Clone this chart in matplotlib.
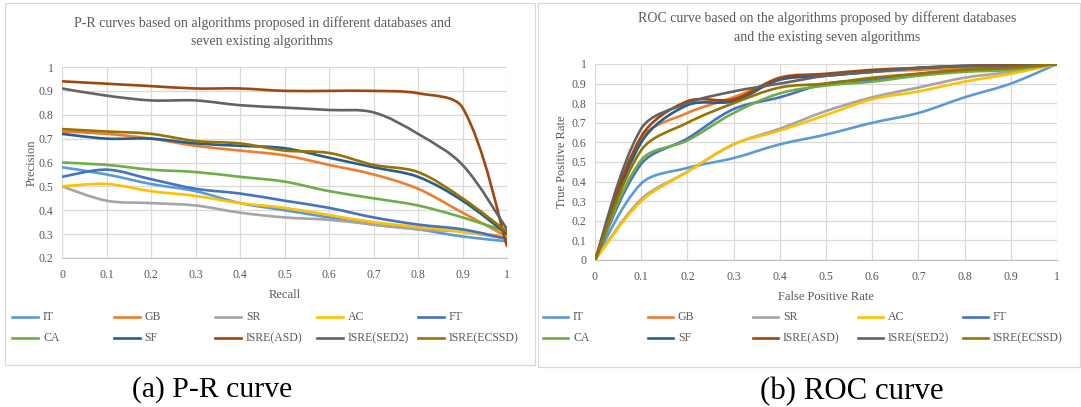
import numpy as np
import matplotlib
matplotlib.use("Agg")
import matplotlib.pyplot as plt
from matplotlib.path import Path
from matplotlib.patches import PathPatch, Rectangle
from matplotlib.lines import Line2D
from matplotlib.ticker import FuncFormatter, MultipleLocator

# ---------------- data ----------------
names = ["IT", "GB", "SR", "AC", "FT", "CA", "SF", "ISRE(ASD)", "ISRE(SED2)", "ISRE(ECSSD)"]
colors = ["#5B9BD5", "#ED7D31", "#A5A5A5", "#FFC000", "#4472C4",
          "#70AD47", "#255E91", "#9E480E", "#636363", "#997300"]

recall = [0.0, 0.1, 0.2, 0.3, 0.4, 0.5, 0.6, 0.7, 0.8, 0.9, 1.0]
pr_IT    = [0.58, 0.55, 0.51, 0.48, 0.43, 0.40, 0.37, 0.34, 0.32, 0.29, 0.27]
pr_GB    = [0.73, 0.72, 0.70, 0.67, 0.65, 0.63, 0.59, 0.55, 0.49, 0.39, 0.29]
pr_SR    = [0.50, 0.44, 0.43, 0.42, 0.39, 0.37, 0.36, 0.34, 0.32, 0.31, 0.28]
pr_AC    = [0.50, 0.51, 0.48, 0.46, 0.43, 0.41, 0.38, 0.35, 0.33, 0.31, 0.29]
pr_FT    = [0.54, 0.57, 0.53, 0.49, 0.47, 0.44, 0.41, 0.37, 0.34, 0.32, 0.28]
pr_CA    = [0.60, 0.59, 0.57, 0.56, 0.54, 0.52, 0.48, 0.45, 0.42, 0.37, 0.31]
pr_SF    = [0.72, 0.70, 0.70, 0.68, 0.67, 0.66, 0.62, 0.58, 0.54, 0.44, 0.30]
pr_ASD   = [0.94, 0.93, 0.92, 0.91, 0.91, 0.90, 0.90, 0.90, 0.89, 0.83, 0.25]
pr_SED2  = [0.91, 0.88, 0.86, 0.86, 0.84, 0.83, 0.82, 0.81, 0.72, 0.59, 0.32]
pr_ECSSD = [0.74, 0.73, 0.72, 0.69, 0.68, 0.65, 0.64, 0.59, 0.56, 0.45, 0.31]

fpr = [0.0, 0.1, 0.2, 0.3, 0.4, 0.5, 0.6, 0.7, 0.8, 0.9, 1.0]
roc_IT    = [0.0, 0.39, 0.47, 0.52, 0.59, 0.64, 0.70, 0.75, 0.83, 0.90, 1.0]
roc_GB    = [0.0, 0.62, 0.75, 0.83, 0.92, 0.94, 0.96, 0.97, 0.98, 0.99, 1.0]
roc_SR    = [0.0, 0.31, 0.45, 0.59, 0.67, 0.76, 0.83, 0.88, 0.93, 0.96, 1.0]
roc_AC    = [0.0, 0.30, 0.45, 0.59, 0.66, 0.74, 0.82, 0.86, 0.91, 0.95, 1.0]
roc_FT    = [0.0, 0.49, 0.62, 0.77, 0.83, 0.90, 0.92, 0.95, 0.97, 0.98, 1.0]
roc_CA    = [0.0, 0.51, 0.61, 0.75, 0.85, 0.89, 0.91, 0.94, 0.96, 0.97, 1.0]
roc_SF    = [0.0, 0.60, 0.79, 0.81, 0.92, 0.94, 0.96, 0.98, 0.99, 0.99, 1.0]
roc_ASD   = [0.0, 0.63, 0.81, 0.82, 0.93, 0.95, 0.97, 0.98, 0.99, 1.0, 1.0]
roc_SED2  = [0.0, 0.67, 0.80, 0.86, 0.90, 0.94, 0.96, 0.98, 0.99, 0.99, 1.0]
roc_ECSSD = [0.0, 0.56, 0.70, 0.80, 0.88, 0.90, 0.93, 0.95, 0.97, 0.98, 1.0]

pr_series = [pr_IT, pr_GB, pr_SR, pr_AC, pr_FT, pr_CA, pr_SF, pr_ASD, pr_SED2, pr_ECSSD]
roc_series = [roc_IT, roc_GB, roc_SR, roc_AC, roc_FT, roc_CA, roc_SF, roc_ASD, roc_SED2, roc_ECSSD]

# ---------------- figure ----------------
W, H = 1081, 407
plt.rcParams['font.family'] = ['Liberation Serif', 'DejaVu Serif']
fig = plt.figure(figsize=(W / 100, H / 100), dpi=100)
TXT = '#595959'
GRID = '#D9D9D9'


def smooth_path(xs, ys, sx, sy):
    """Excel-like smoothed line: cubic Bezier through the data points,
    tangent lengths scaled by neighbouring chord lengths (in screen units)."""
    pts = np.column_stack([xs, ys]).astype(float)
    scr = pts * np.array([sx, sy])
    n = len(pts)

    def d(a, b):
        return float(np.hypot(*(scr[b] - scr[a])))

    verts = [pts[0]]
    codes = [Path.MOVETO]
    for i in range(n - 1):
        i0 = max(i - 1, 0)
        i3 = min(i + 2, n - 1)
        d01, d12, d23 = d(i0, i), d(i, i + 1), d(i + 1, i3)
        f1 = d12 / (d01 + d12) / 3.0 if d01 > 0 else 1 / 6.0
        f2 = d12 / (d12 + d23) / 3.0 if d23 > 0 else 1 / 6.0
        c1 = pts[i] + (pts[i + 1] - pts[i0]) * f1
        c2 = pts[i + 1] - (pts[i3] - pts[i]) * f2
        verts += [c1, c2, pts[i + 1]]
        codes += [Path.CURVE4] * 3
    return Path(verts, codes)


def fmt(v, _):
    return f"{v:g}"


def style_axes(ax, ylo):
    ax.set_xlim(0, 1)
    ax.set_ylim(ylo, 1)
    ax.xaxis.set_major_locator(MultipleLocator(0.1))
    ax.yaxis.set_major_locator(MultipleLocator(0.1))
    ax.xaxis.set_major_formatter(FuncFormatter(fmt))
    ax.yaxis.set_major_formatter(FuncFormatter(fmt))
    ax.grid(True, color=GRID, lw=0.9)
    ax.set_axisbelow(True)
    for s in ['top', 'right', 'left']:
        ax.spines[s].set_visible(False)
    ax.spines['bottom'].set_color('#BFBFBF')
    ax.tick_params(length=0, labelsize=8.5, colors=TXT)
    ax.tick_params(axis='x', pad=8)
    ax.tick_params(axis='y', pad=6)
    ax.patch.set_alpha(0)


# panel frames
fig.add_artist(Rectangle((5 / W, 1 - 365 / H), 530 / W, 362 / H, transform=fig.transFigure,
                         fill=False, ec=GRID, lw=0.9))
fig.add_artist(Rectangle((538 / W, 1 - 367 / H), 542 / W, 364 / H, transform=fig.transFigure,
                         fill=False, ec=GRID, lw=0.9))

ax1 = fig.add_axes([62 / W, 1 - 258 / H, 445 / W, 191 / H])
ax2 = fig.add_axes([595 / W, 1 - 260 / H, 462 / W, 196 / H])
style_axes(ax1, 0.2)
style_axes(ax2, 0.0)

for ys, c in zip(pr_series, colors):
    ax1.add_patch(PathPatch(smooth_path(recall, ys, 445, 191 / 0.8), fill=False, ec=c, lw=1.9,
                            capstyle='round', joinstyle='round'))
for ys, c in zip(roc_series, colors):
    ax2.add_patch(PathPatch(smooth_path(fpr, ys, 462, 196), fill=False, ec=c, lw=1.9,
                            capstyle='round', joinstyle='round'))

ax1.set_xlabel("Recall", fontsize=9, color=TXT, labelpad=6)
ax1.set_ylabel("Precision", fontsize=9, color=TXT, labelpad=0.5)
ax2.set_xlabel("False Positive Rate", fontsize=9, color=TXT, labelpad=6)
ax2.set_ylabel("True Positive Rate", fontsize=9, color=TXT, labelpad=3)

# titles
fig.text(262 / W, 1 - 23 / H, "P-R curves based on algorithms proposed in different databases and",
         ha='center', va='center', fontsize=10, color=TXT)
fig.text(262 / W, 1 - 42 / H, "seven existing algorithms",
         ha='center', va='center', fontsize=10, color=TXT)
fig.text(827 / W, 1 - 18 / H, "ROC curve based on the algorithms proposed by different databases",
         ha='center', va='center', fontsize=10, color=TXT)
fig.text(827 / W, 1 - 37 / H, "and the existing seven algorithms",
         ha='center', va='center', fontsize=10, color=TXT)


# legends (Excel-style grid of 5 columns x 2 rows)
def legend(x0, step, hl):
    for i, (n, c) in enumerate(zip(names, colors)):
        col, row = i % 5, i // 5
        x = x0 + col * step
        y = 317 + row * 21
        fig.add_artist(Line2D([x / W, (x + hl) / W], [1 - y / H, 1 - y / H],
                              transform=fig.transFigure, color=c, lw=1.9))
        fig.text((x + hl + 5) / W, 1 - y / H, n, ha='left', va='center',
                 fontsize=8.5, color=TXT)


legend(12, 101.5, 26)
legend(543, 105, 25)

# captions
fig.text(212 / W, 1 - 390 / H, "(a) P-R curve", ha='center', va='center', fontsize=21.4, color='black')
fig.text(852 / W, 1 - 392 / H, "(b) ROC curve", ha='center', va='center', fontsize=22.2, color='black')

fig.savefig("out.png", dpi=100, facecolor='white')
